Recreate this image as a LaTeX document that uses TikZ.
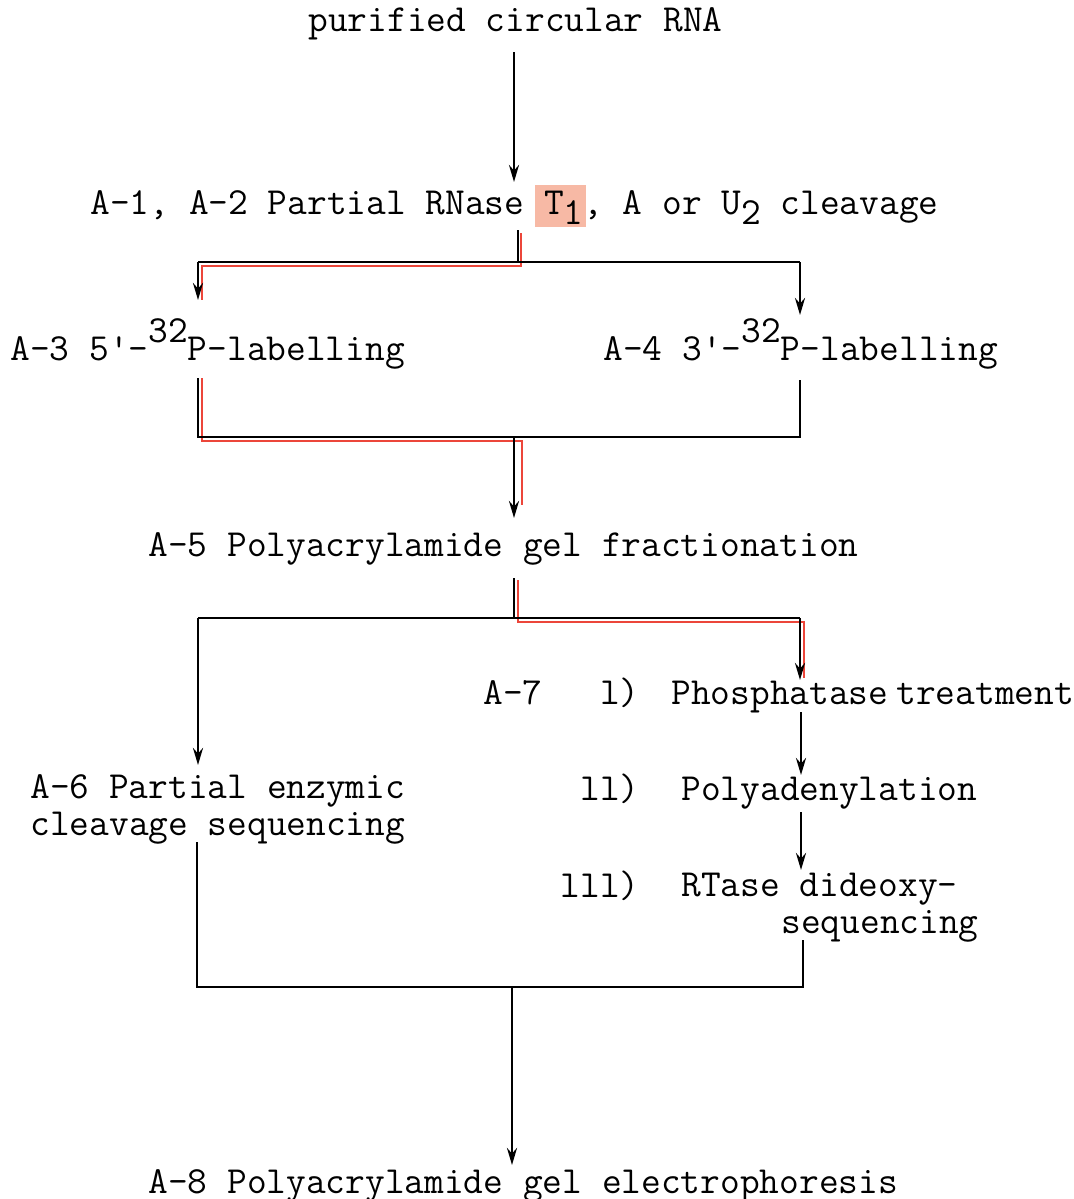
\documentclass[tikz,border=0pt]{standalone}
\usepackage{fontspec}
\usetikzlibrary{arrows.meta}
\definecolor{redline}{RGB}{236,70,58}
\definecolor{hlcol}{RGB}{247,185,165}
\newcommand\mydn[1]{\raisebox{-0.28em}{#1}}
\newcommand\myup[1]{\raisebox{0.45em}{#1}}
\newcommand\sq{\textquotesingle}
\begin{document}
\begin{tikzpicture}[x=0.5pt,y=-0.5pt,
  lbl/.style={anchor=base west,inner sep=0pt,font=\ttfamily\fontsize{19.15}{18.2pt}\selectfont},
  lblr/.style={lbl,anchor=base east},
  ln/.style={line width=1.25pt,black},
  arr/.style={ln,-{Stealth[length=8.5pt,width=5pt]}},
  rl/.style={line width=0.9pt,draw=redline}]
\useasboundingbox (0,0) rectangle (1074,1199);
% highlight behind T1
\fill[hlcol] (535,185) rectangle (586,227);
% texts
\node[lbl] (t0) at (308,32) {purified circular RNA};
\node[lbl] (t1) at (90,214) {A-1, A-2 Partial RNase T\mydn{1}, A or U\mydn{2} cleavage};
\node[lbl] (t3) at (10,360) {A-3 5\sq-\myup{32}P-labelling};
\node[lbl] (t4) at (603,360) {A-4 3\sq-\myup{32}P-labelling};
\node[lbl] (t5) at (148,556) {A-5 Polyacrylamide gel fractionation};
\node[lbl] (t7) at (483,704) {A-7};
\node[lblr] (r1) at (640,704) {l)};
\node[lbl] (p1a) at (671,704) {Phosphatase};
\node[lbl] (p1b) at (896,704) {treatment};
\node[lblr] (r2) at (640,800) {ll)};
\node[lbl] (p2) at (681,800) {Polyadenylation};
\node[lblr] (r3) at (640,897) {lll)};
\node[lbl,align=left] (p3) at (681,933) {RTase dideoxy-\\\hspace*{50pt}sequencing};
\node[lbl,align=left] (t6) at (30,835) {A-6 Partial enzymic\\cleavage sequencing};
\node[lbl] (t8) at (148,1193) {A-8 Polyacrylamide gel electrophoresis};
% coordinates
\coordinate (a0) at (514,52);  \coordinate (a1) at (514,182);
\coordinate (s1t) at (518,230); \coordinate (s1) at (518,262);
\coordinate (s1l) at (198,262); \coordinate (s1r) at (800,262);
\coordinate (s1le) at (198,300); \coordinate (s1re) at (800,315);
\coordinate (j1l) at (198,378); \coordinate (j1r) at (800,380);
\coordinate (j1lb) at (198,437); \coordinate (j1rb) at (800,437);
\coordinate (j1) at (514,437); \coordinate (j1e) at (514,518);
\coordinate (s2t) at (514,578); \coordinate (s2) at (514,618);
\coordinate (s2l) at (198,618); \coordinate (s2r) at (800,618);
\coordinate (s2le) at (198,765); \coordinate (s2re) at (800,680);
\coordinate (b1s) at (801,712); \coordinate (b1e) at (801,775);
\coordinate (b2s) at (801,812); \coordinate (b2e) at (801,870);
\coordinate (j2l) at (197,842); \coordinate (j2r) at (803,940);
\coordinate (j2lb) at (197,987); \coordinate (j2rb) at (803,987);
\coordinate (j2) at (512,987); \coordinate (j2e) at (512,1165);
% red path coordinates
\coordinate (r1a) at (521,233); \coordinate (r1b) at (521,266);
\coordinate (r1c) at (202,266); \coordinate (r1d) at (202,300);
\coordinate (r2a) at (202,378); \coordinate (r2b) at (202,441);
\coordinate (r2c) at (522,441); \coordinate (r2d) at (522,505);
\coordinate (r3a) at (518,580); \coordinate (r3b) at (518,622);
\coordinate (r3c) at (804,622); \coordinate (r3d) at (804,678);
% red overlay lines
\draw[rl] (r1a) -- (r1b) -- (r1c) -- (r1d);
\draw[rl] (r2a) -- (r2b) -- (r2c) -- (r2d);
\draw[rl] (r3a) -- (r3b) -- (r3c) -- (r3d);
% black connectors
\draw[arr] (a0) -- (a1);
\draw[ln] (s1t) -- (s1);
\draw[ln] (s1l) -- (s1r);
\draw[arr] (s1l) -- (s1le);
\draw[arr] (s1r) -- (s1re);
\draw[ln] (j1l) -- (j1lb) -- (j1rb) -- (j1r);
\draw[arr] (j1) -- (j1e);
\draw[ln] (s2t) -- (s2);
\draw[ln] (s2l) -- (s2r);
\draw[arr] (s2l) -- (s2le);
\draw[arr] (s2r) -- (s2re);
\draw[arr] (b1s) -- (b1e);
\draw[arr] (b2s) -- (b2e);
\draw[ln] (j2l) -- (j2lb) -- (j2rb) -- (j2r);
\draw[arr] (j2) -- (j2e);
\end{tikzpicture}
\end{document}
